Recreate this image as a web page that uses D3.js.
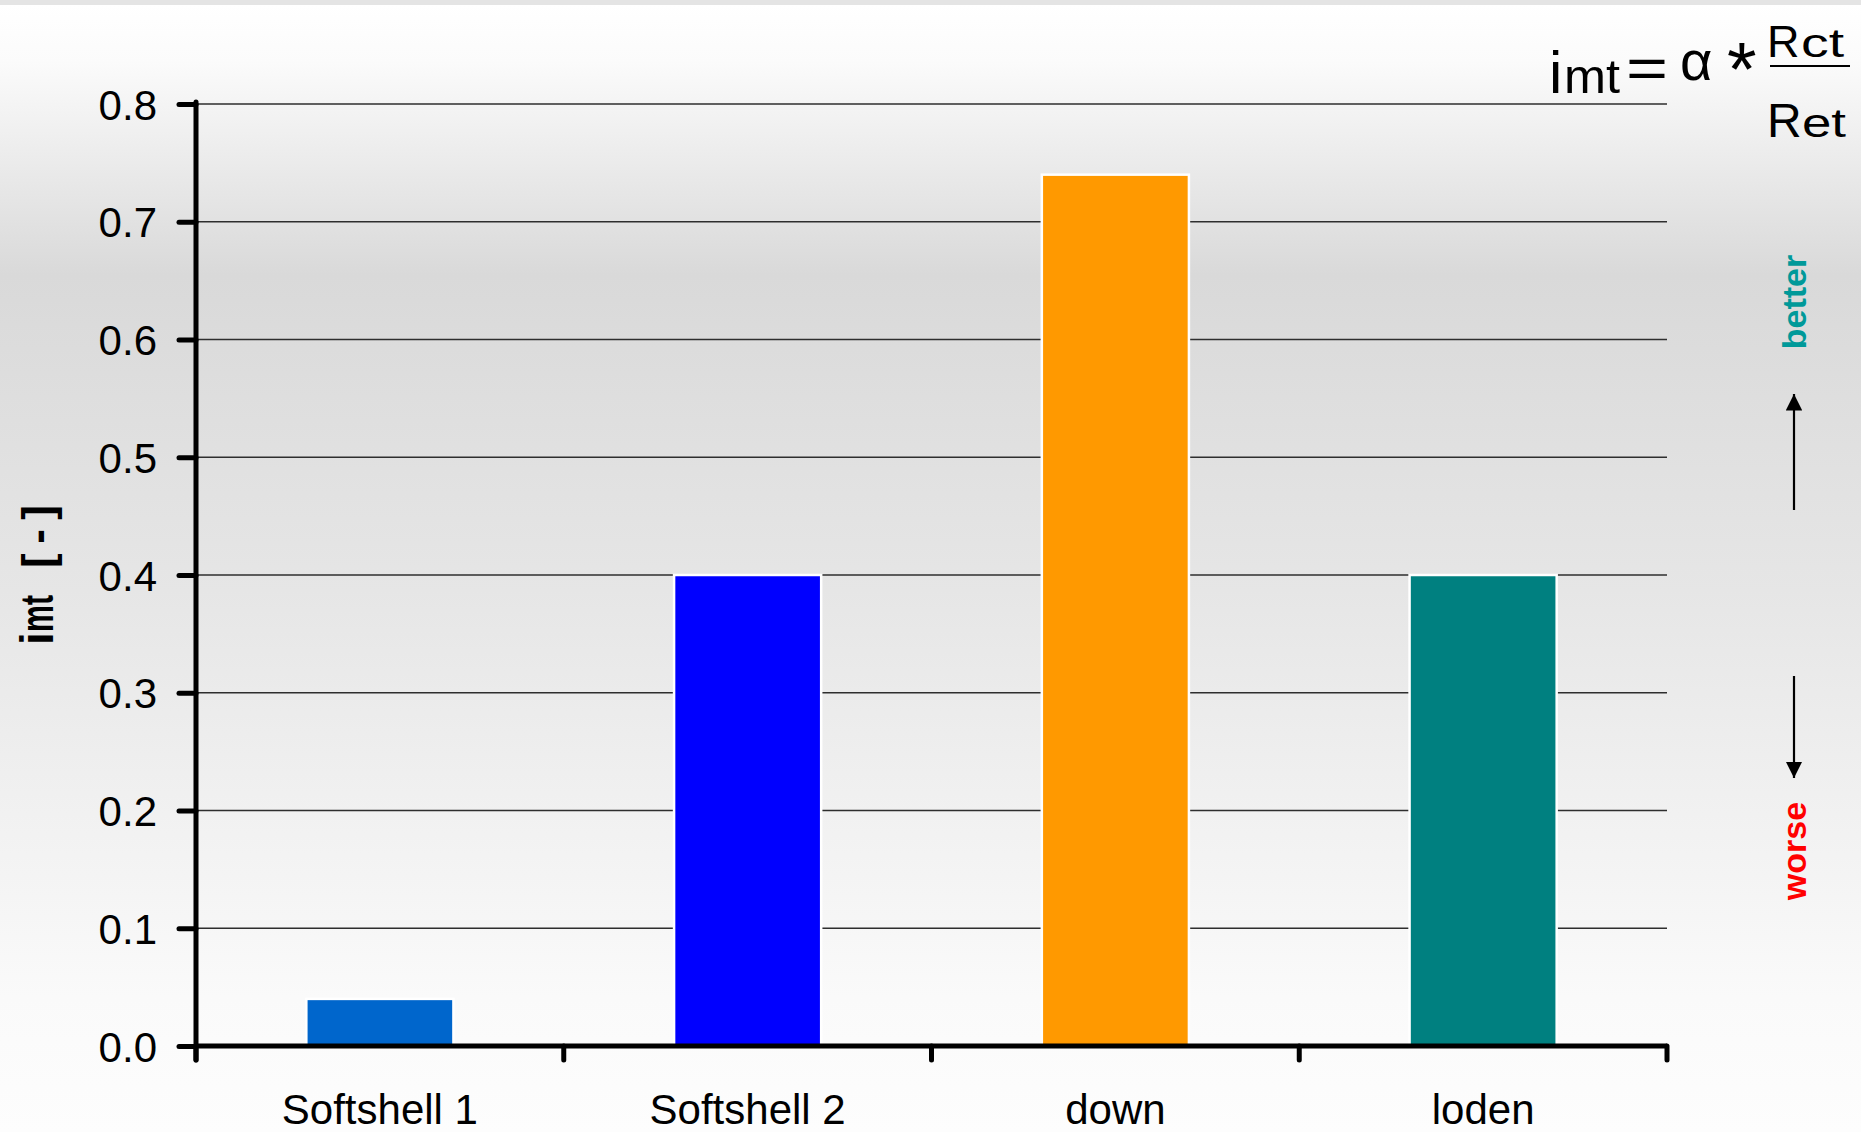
<!DOCTYPE html>
<html>
<head>
<meta charset="utf-8">
<script src="https://cdn.jsdelivr.net/npm/d3@7"></script>
<style>
  html, body { margin: 0; padding: 0; background: #fff; }
  svg { display: block; font-family: "Liberation Sans", Arial, sans-serif; }
</style>
</head>
<body>
<svg id="chart" width="1861" height="1132"></svg>
<script>
// Chart data
const categories = ["Softshell 1", "Softshell 2", "down", "loden"];
const values = [0.04, 0.40, 0.74, 0.40];
const barColors = ["#0066CC", "#0000FF", "#FF9900", "#008080"];
const yTickValues = [0, 0.1, 0.2, 0.3, 0.4, 0.5, 0.6, 0.7, 0.8];

const chartWidth = 1861,
  chartHeight = 1132,
  plotLeft = 196,
  plotRight = 1667,
  plotTop = 104,
  plotBottom = 1046,
  fontSize = 42;

const svg = d3.select("#chart");

// Background: thin grey band on top, then a vertical gradient
const defs = svg.append("defs");
const grad = defs
  .append("linearGradient")
  .attr("id", "bg")
  .attr("x1", 0).attr("y1", 0)
  .attr("x2", 0).attr("y2", 1);
[
  [0, "#ffffff"],
  [0.05, "#fbfbfb"],
  [0.24, "#d9d9d9"],
  [0.52, "#e6e6e6"],
  [0.88, "#fafafa"],
  [1, "#fdfdfd"]
].forEach(s => grad.append("stop").attr("offset", s[0]).attr("stop-color", s[1]));

svg.append("rect").attr("x", 0).attr("y", 5).attr("width", chartWidth).attr("height", chartHeight - 5).attr("fill", "url(#bg)");
svg.append("rect").attr("x", 0).attr("y", 0).attr("width", chartWidth).attr("height", 5).attr("fill", "#e4e4e4");

// Scales
const x = d3.scaleBand().domain(categories).range([plotLeft, plotRight]).paddingInner(0.6).paddingOuter(0.3);
const xEdge = d3.scaleLinear().domain([0, categories.length]).range([plotLeft, plotRight]);
const y = d3.scaleLinear().domain([0, 0.8]).range([plotBottom, plotTop]);

// Gridlines
svg
  .append("g")
  .selectAll("line")
  .data(yTickValues.filter(d => d > 0))
  .join("line")
  .attr("x1", plotLeft)
  .attr("x2", plotRight)
  .attr("y1", d => y(d))
  .attr("y2", d => y(d))
  .attr("stroke", "#2e2e2e")
  .attr("stroke-width", 1.3);

// Bars
svg
  .append("g")
  .selectAll("rect")
  .data(categories)
  .join("rect")
  .attr("x", d => x(d))
  .attr("y", (d, i) => y(values[i]))
  .attr("width", x.bandwidth())
  .attr("height", (d, i) => y(0) - y(values[i]))
  .attr("fill", (d, i) => barColors[i])
  .attr("stroke", "#ffffff")
  .attr("stroke-width", 2.5);

// Y axis
const yAxis = svg
  .append("g")
  .attr("transform", "translate(" + plotLeft + ",0)")
  .call(d3.axisLeft(y).tickValues(yTickValues).tickFormat(d3.format(".1f")).tickSize(17).tickPadding(22));
yAxis.select(".domain").remove();
yAxis.selectAll(".tick line").attr("stroke", "#000").attr("stroke-width", 5).attr("stroke-linecap", "round");
yAxis.selectAll(".tick text").attr("font-size", fontSize).attr("font-family", "Liberation Sans, Arial, sans-serif").attr("fill", "#000").attr("dy", "0.36em");
svg.append("line")
  .attr("x1", plotLeft).attr("x2", plotLeft)
  .attr("y1", plotTop - 2).attr("y2", plotBottom + 14)
  .attr("stroke", "#000").attr("stroke-width", 5).attr("stroke-linecap", "round");

// X axis: boundary ticks + labels
svg.append("line")
  .attr("x1", plotLeft).attr("x2", plotRight)
  .attr("y1", plotBottom).attr("y2", plotBottom)
  .attr("stroke", "#000").attr("stroke-width", 5);
svg
  .append("g")
  .selectAll("line")
  .data(d3.range(categories.length + 1))
  .join("line")
  .attr("x1", d => xEdge(d))
  .attr("x2", d => xEdge(d))
  .attr("y1", plotBottom)
  .attr("y2", plotBottom + 14)
  .attr("stroke", "#000")
  .attr("stroke-width", 5)
  .attr("stroke-linecap", "round");
svg
  .append("g")
  .selectAll("text")
  .data(categories)
  .join("text")
  .attr("x", d => x(d) + x.bandwidth() / 2)
  .attr("y", 1124)
  .attr("text-anchor", "middle")
  .attr("font-size", fontSize)
  .text(d => d);

// Y axis title (rotated, baseline at x=53)
const yTitle = svg
  .append("g")
  .attr("transform", "translate(53,0) rotate(-90)")
  .attr("font-weight", "bold");
yTitle.append("text").attr("x", -645).attr("y", 0).attr("font-size", 46).text("i");
yTitle.append("text").attr("x", -632).attr("y", 0).attr("font-size", 46)
  .attr("textLength", 37).attr("lengthAdjust", "spacingAndGlyphs").text("mt");
yTitle.append("text").attr("x", -568).attr("y", 0).attr("font-size", 44)
  .attr("textLength", 63).attr("lengthAdjust", "spacing").text("[-]");

// Formula top right: i_mt = alpha * R_ct / R_et
const formula = svg.append("g");
formula.append("text").attr("x", 1549).attr("y", 93).attr("font-size", 60).text("i");
formula.append("text").attr("x", 1564).attr("y", 93).attr("font-size", 48)
  .attr("textLength", 56).attr("lengthAdjust", "spacingAndGlyphs").text("mt");
formula.append("text").attr("x", 1626).attr("y", 88).attr("font-size", 58)
  .attr("textLength", 42).attr("lengthAdjust", "spacingAndGlyphs").text("=");
formula.append("text").attr("x", 1680).attr("y", 80).attr("font-size", 56).text("\u03b1");
formula.append("text").attr("x", 1727).attr("y", 95).attr("font-size", 76).text("*");
formula.append("text").attr("x", 1767).attr("y", 57).attr("font-size", 45).text("R");
formula.append("text").attr("x", 1801).attr("y", 57).attr("font-size", 40)
  .attr("textLength", 43).attr("lengthAdjust", "spacingAndGlyphs").text("ct");
formula.append("line")
  .attr("x1", 1770).attr("x2", 1850)
  .attr("y1", 66).attr("y2", 66)
  .attr("stroke", "#000").attr("stroke-width", 2);
formula.append("text").attr("x", 1767).attr("y", 137).attr("font-size", 48).text("R");
formula.append("text").attr("x", 1802).attr("y", 137).attr("font-size", 40)
  .attr("textLength", 44).attr("lengthAdjust", "spacingAndGlyphs").text("et");

// better / worse annotation
defs.append("marker")
  .attr("id", "arrow")
  .attr("viewBox", "0 0 10 10")
  .attr("refX", 10).attr("refY", 5)
  .attr("markerWidth", 7.5).attr("markerHeight", 7.5)
  .attr("markerUnits", "strokeWidth")
  .attr("orient", "auto")
  .append("path")
  .attr("d", "M0,0 L10,5 L0,10 Z")
  .attr("fill", "#000");

const annX = 1794;
svg.append("text")
  .attr("transform", "translate(" + (annX + 12) + ",302) rotate(-90)")
  .attr("text-anchor", "middle")
  .attr("font-weight", "bold")
  .attr("font-size", 34)
  .attr("fill", "#009999")
  .text("better");
svg.append("line")
  .attr("x1", annX).attr("x2", annX)
  .attr("y1", 510).attr("y2", 394)
  .attr("stroke", "#000").attr("stroke-width", 2.2)
  .attr("marker-end", "url(#arrow)");
svg.append("line")
  .attr("x1", annX).attr("x2", annX)
  .attr("y1", 676).attr("y2", 778)
  .attr("stroke", "#000").attr("stroke-width", 2.2)
  .attr("marker-end", "url(#arrow)");
svg.append("text")
  .attr("transform", "translate(" + (annX + 12) + ",851) rotate(-90)")
  .attr("text-anchor", "middle")
  .attr("font-weight", "bold")
  .attr("font-size", 34)
  .attr("fill", "#ff0000")
  .text("worse");
</script>
</body>
</html>
